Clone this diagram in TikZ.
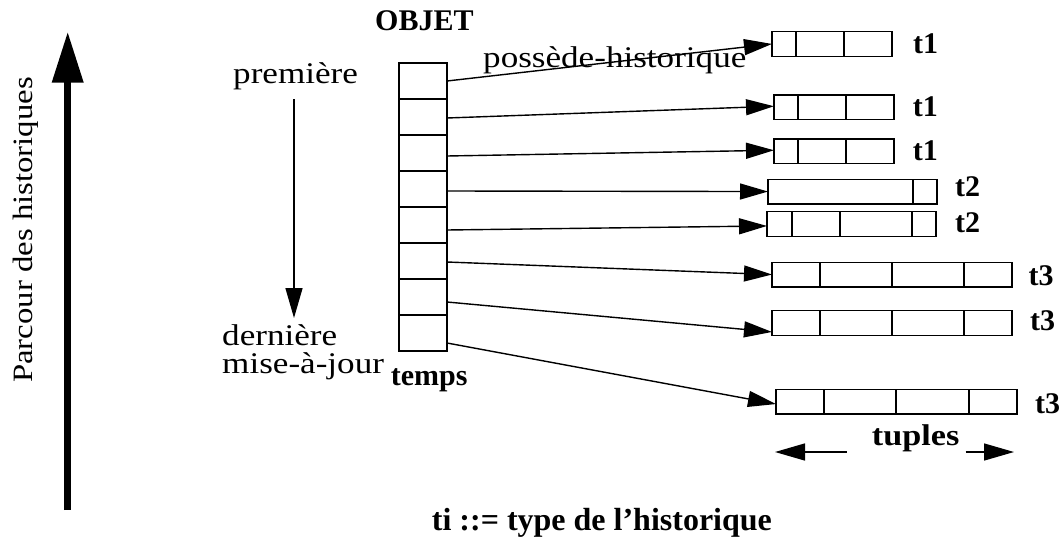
\documentclass[tikz,border=0pt]{standalone}
\usepackage{fontspec}
\usepackage{graphicx}
\setmainfont{Liberation Serif}
\newfontfamily\regfont[FakeStretch=1.17]{Liberation Serif}
\usetikzlibrary{arrows.meta}
\tikzset{
  box/.style={draw, line width=1.4pt, rectangle, inner sep=0pt, outer sep=0pt},
  cell/.style={box, minimum width=48pt, minimum height=36pt},
  conn/.style={line width=1.4pt, -{Triangle[length=28pt,width=16pt]}},
  thinarr/.style={line width=1.4pt, -{Triangle[length=30pt,width=17pt]}},
  bigarr/.style={line width=7pt, -{Triangle[length=51pt,width=30pt]}},
  lbl/.style={inner sep=0pt, anchor=base west, font=\bfseries\fontsize{30}{36}\selectfont},
  txt/.style={inner sep=0pt, anchor=base west, font=\regfont\fontsize{30}{36}\selectfont},
}
\newcommand\tuplebox[5]{%
  \node[box, minimum width={(#3-#2)*1pt}, minimum height=24.5pt, anchor=north west] (#1) at (#2,#4) {};
  \foreach \d in {#5} {\draw[line width=1.4pt] (\d,#4) -- ++(0,24.5);}
}
\begin{document}
\begin{tikzpicture}[x=1pt,y=-1pt]
\useasboundingbox (0,0) rectangle (1063,538);

% object column
\foreach \i in {1,...,8} {\node[cell] (c\i) at (423,{63+36*\i-18}) {};}

% tuples
\tuplebox{r1}{772}{892}{31.7}{796,844}
\tuplebox{r2}{774}{894}{95}{798,846}
\tuplebox{r3}{774}{894}{139}{798,846}
\tuplebox{r4}{768}{937}{179.3}{913}
\tuplebox{r5}{767}{936}{211.7}{792,840,912}
\tuplebox{r6}{772}{1012}{262.3}{820,892,964}
\tuplebox{r7}{772}{1012}{310.7}{820,892,964}
\tuplebox{r8}{776}{1017}{389.3}{824,896,969}

% connectors
\draw[conn] (c1.east) -- (r1.west);
\draw[conn] ([yshift=-1pt]c2.east) -- ([yshift=1pt]r2.west);
\draw[conn] ([yshift=-3pt]c3.east) -- ([yshift=1pt]r3.west);
\draw[conn] ([yshift=-2pt]c4.east) -- (r4.west);
\draw[conn] ([yshift=-5pt]c5.east) -- ([yshift=-2pt]r5.west);
\draw[conn] ([yshift=-1pt]c6.east) -- (r6.west);
\draw[conn] ([yshift=-5pt]c7.east) -- ([yshift=-9pt]r7.west);
\draw[conn] ([yshift=-10pt]c8.east) -- ([yshift=-2.5pt]r8.west);

% type labels
\node[lbl] (l1) at (913,53) {t1};
\node[lbl] (l2) at (912.7,116.7) {t1};
\node[lbl] (l3) at (912.7,160) {t1};
\node[lbl] (l4) at (955,196.7) {t2};
\node[lbl] (l5) at (955,232) {t2};
\node[lbl] (l6) at (1028.3,285) {t3};
\node[lbl] (l7) at (1030,330) {t3};
\node[lbl] (l8) at (1035,413) {t3};

% texts
\node[lbl] (objet) at (375,30) {OBJET};
\node[txt] (premiere) at (233,83) {première};
\node[txt] (possede) at (483,67) {possède-historique};
\node[txt] (derniere) at (222,345) {dernière};
\node[txt] (maj) at (222,373) {mise-à-jour};
\node[lbl] (temps) at (390.7,385) {temps};
\node[lbl] (tuples) at (871.7,445) {\scalebox{1.14}[1]{tuples}};
\node[txt, rotate=90, font=\regfont\fontsize{28}{34}\selectfont] (parcour) at (32,383) {Parcour des historiques};
\node[lbl, font=\bfseries\fontsize{32}{38}\selectfont] (legend) at (431.7,530) {ti ::= type de l’historique};

% arrows
\coordinate (d1) at (294,99);
\coordinate (d2) at (294,318);
\draw[thinarr] (d1) -- (d2);
\coordinate (tl1) at (846.7,452);
\coordinate (tl2) at (775,452);
\coordinate (tr1) at (965.7,452);
\coordinate (tr2) at (1014,452);
\draw[thinarr] (tl1) -- (tl2);
\draw[thinarr] (tr1) -- (tr2);
\coordinate (b1) at (67.7,510);
\coordinate (b2) at (67.7,31.7);
\draw[bigarr] (b1) -- (b2);
\end{tikzpicture}
\end{document}
